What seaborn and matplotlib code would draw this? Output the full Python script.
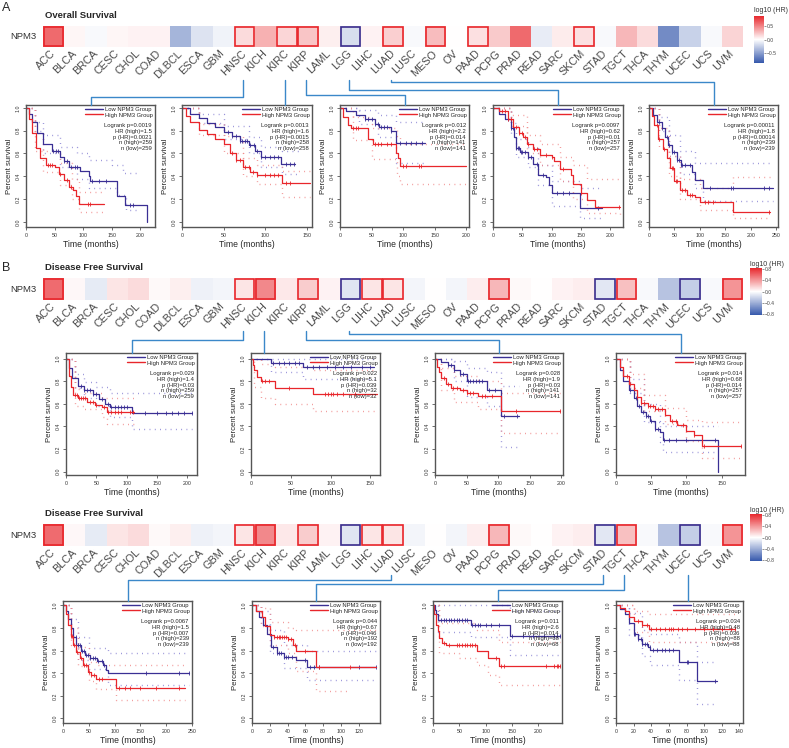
import numpy as np
import pandas as pd
import matplotlib
matplotlib.use('Agg')
import matplotlib.pyplot as plt
import seaborn as sns
from matplotlib.colors import LinearSegmentedColormap
from matplotlib.patches import Rectangle
from matplotlib.lines import Line2D

sns.set_style('white')
plt.rcParams['font.family'] = ['Liberation Sans', 'DejaVu Sans']

W, H = 789, 748

# ---------------- heatmap data (log10 HR) ----------------
cancers = ['ACC', 'BLCA', 'BRCA', 'CESC', 'CHOL', 'COAD', 'DLBCL', 'ESCA', 'GBM', 'HNSC', 'KICH',
           'KIRC', 'KIRP', 'LAML', 'LGG', 'LIHC', 'LUAD', 'LUSC', 'MESO', 'OV', 'PAAD', 'PCPG',
           'PRAD', 'READ', 'SARC', 'SKCM', 'STAD', 'TGCT', 'THCA', 'THYM', 'UCEC', 'UCS', 'UVM']
os_hr = [0.62, 0.04, -0.03, 0.04, 0.05, 0.05, -0.4, -0.15, -0.07, 0.15, 0.33,
         0.17, 0.24, 0.07, -0.18, 0.05, 0.2, -0.03, 0.28, 0.0, 0.13, 0.22,
         0.62, -0.1, 0.08, 0.13, -0.03, 0.3, 0.15, -0.62, -0.24, -0.03, 0.18]
# 1 = significant high (red frame), -1 = significant low (blue frame)
os_sig = [1, 0, 0, 0, 0, 0, 0, 0, 0, 1, 0,
          1, 1, 0, -1, 0, 1, 0, 1, 0, 1, 0,
          0, 0, 0, 1, 0, 0, 0, 0, 0, 0, 0]
dfs_hr = [0.58, 0.03, -0.1, 0.1, 0.14, 0.02, 0.06, -0.07, -0.05, 0.1, 0.47,
          0.09, 0.2, 0.05, -0.13, 0.1, 0.1, -0.05, 0.0, -0.05, 0.07, 0.28,
          0.02, 0.0, 0.05, 0.07, -0.12, 0.25, -0.03, -0.3, -0.25, -0.03, 0.42]
dfs_sig = [1, 0, 0, 0, 0, 0, 0, 0, 0, 1, 1,
           0, 1, 0, -1, 1, 1, 0, 0, 0, 0, 1,
           0, 0, 0, 0, -1, 1, 0, 0, -1, 0, 1]

# ---------------- Kaplan-Meier data: (months, survival) ----------------
# A: overall survival
os_hnsc_low = [(0, 1.0), (5, 0.95), (10, 0.88), (20, 0.78), (30, 0.68), (45, 0.62), (60, 0.57), (66, 0.53),
               (75, 0.48), (95, 0.45), (110, 0.40), (112, 0.36), (160, 0.23), (174, 0.15), (212, 0.0)]
os_hnsc_high = [(0, 1.0), (5, 0.9), (10, 0.78), (18, 0.65), (25, 0.56), (35, 0.5), (50, 0.48), (58, 0.42),
                (66, 0.37), (75, 0.31), (82, 0.28), (87, 0.23), (93, 0.16), (136, 0.16)]
os_hnsc_low_ci = ([(0, 1.0), (15, 0.88), (30, 0.76), (60, 0.66), (90, 0.6), (110, 0.54), (150, 0.5), (170, 0.43), (200, 0.43)],
                  [(0, 1.0), (15, 0.8), (30, 0.6), (60, 0.48), (90, 0.38), (110, 0.3), (160, 0.24), (175, 0.1), (200, 0.1)])
os_hnsc_high_ci = ([(0, 1.0), (15, 0.78), (30, 0.62), (60, 0.52), (80, 0.38), (93, 0.26), (136, 0.26)],
                   [(0, 1.0), (15, 0.62), (30, 0.44), (60, 0.32), (80, 0.2), (93, 0.09), (136, 0.09)])
os_hnsc_low_cens = [48, 52, 56, 66, 72, 78, 85, 90, 115, 128, 140, 183, 188]
os_hnsc_high_cens = [38, 42, 46, 60, 72, 78, 108, 112]
os_hnsc_stats = ['Logrank p=0.0019', 'HR (high)=1.5', 'p (HR)=0.0021', 'n (high)=259', 'n (low)=259']

os_kirc_low = [(0, 1.0), (10, 0.95), (20, 0.91), (30, 0.87), (40, 0.83), (50, 0.79), (60, 0.75), (70, 0.71),
               (80, 0.67), (88, 0.62), (95, 0.57), (119, 0.51), (136, 0.51)]
os_kirc_high = [(0, 1.0), (5, 0.93), (10, 0.88), (20, 0.81), (30, 0.77), (40, 0.73), (50, 0.68), (57, 0.6),
                (65, 0.54), (73, 0.48), (82, 0.44), (90, 0.41), (120, 0.345), (153, 0.345)]
os_kirc_low_ci = ([(0, 1.0), (20, 0.95), (50, 0.84), (80, 0.74), (95, 0.66), (120, 0.62), (140, 0.62)],
                  [(0, 1.0), (20, 0.87), (50, 0.73), (80, 0.6), (95, 0.48), (120, 0.42), (140, 0.42)])
os_kirc_high_ci = ([(0, 1.0), (20, 0.86), (50, 0.75), (73, 0.56), (90, 0.5), (120, 0.45), (153, 0.45)],
                   [(0, 1.0), (20, 0.76), (50, 0.6), (73, 0.4), (90, 0.33), (120, 0.22), (153, 0.22)])
os_kirc_low_cens = [55, 60, 65, 70, 72, 75, 78, 82, 86, 90, 95, 100, 105, 110, 115, 125, 130, 134]
os_kirc_high_cens = [60, 65, 70, 75, 80, 85, 90, 100, 105, 110, 115, 125, 130]
os_kirc_stats = ['Logrank p=0.0013', 'HR (high)=1.6', 'p (HR)=0.0015', 'n (high)=258', 'n (low)=258']

os_kirp_low = [(0, 1.0), (10, 0.97), (25, 0.94), (40, 0.9), (55, 0.86), (62, 0.83), (80, 0.8), (88, 0.69), (134, 0.69)]
os_kirp_high = [(0, 1.0), (5, 0.92), (12, 0.85), (18, 0.82), (45, 0.73), (52, 0.68), (88, 0.6), (92, 0.56),
                (95, 0.49), (199, 0.49)]
os_kirp_low_ci = ([(0, 1.0), (30, 0.98), (60, 0.94), (88, 0.88), (134, 0.88)],
                  [(0, 1.0), (30, 0.86), (60, 0.74), (88, 0.52), (134, 0.52)])
os_kirp_high_ci = ([(0, 1.0), (20, 0.92), (50, 0.82), (90, 0.75), (95, 0.68), (199, 0.68)],
                   [(0, 1.0), (20, 0.72), (50, 0.55), (90, 0.4), (95, 0.33), (199, 0.33)])
os_kirp_low_cens = [40, 45, 50, 55, 60, 65, 70, 75, 80, 95, 105, 112, 120, 130]
os_kirp_high_cens = [20, 25, 28, 55, 60, 65, 75, 80, 100, 105, 125, 128]
os_kirp_stats = ['Logrank p=0.012', 'HR (high)=2.2', 'p (HR)=0.014', 'n (high)=141', 'n (low)=141']

os_lgg_low = [(0, 1.0), (10, 0.95), (20, 0.9), (30, 0.82), (36, 0.74), (40, 0.65), (46, 0.61), (60, 0.57),
              (68, 0.51), (76, 0.41), (90, 0.39), (96, 0.32), (100, 0.25), (149, 0.12), (186, 0.12)]
os_lgg_high = [(0, 1.0), (10, 0.97), (25, 0.9), (35, 0.83), (45, 0.78), (52, 0.74), (58, 0.68), (68, 0.64),
               (80, 0.59), (100, 0.57), (105, 0.53), (115, 0.46), (133, 0.41), (137, 0.33), (150, 0.25),
               (160, 0.19), (174, 0.13), (217, 0.13)]
os_lgg_low_ci = ([(0, 1.0), (30, 0.87), (40, 0.73), (60, 0.66), (76, 0.5), (100, 0.36), (149, 0.3), (186, 0.3)],
                 [(0, 1.0), (30, 0.76), (40, 0.57), (60, 0.48), (76, 0.32), (100, 0.14), (149, 0.03), (186, 0.03)])
os_lgg_high_ci = ([(0, 1.0), (30, 0.94), (58, 0.76), (80, 0.68), (115, 0.57), (137, 0.5), (160, 0.38), (217, 0.38)],
                  [(0, 1.0), (30, 0.84), (58, 0.6), (80, 0.5), (115, 0.36), (137, 0.2), (160, 0.08), (217, 0.04)])
os_lgg_low_cens = [25, 30, 35, 40, 42, 45, 48, 50, 55, 60, 65, 75, 85, 110, 120, 130, 180]
os_lgg_high_cens = [15, 20, 25, 30, 40, 45, 50, 55, 60, 70, 75, 90, 100, 120, 150, 215]
os_lgg_stats = ['Logrank p=0.0097', 'HR (high)=0.62', 'p (HR)=0.01', 'n (high)=257', 'n (low)=257']

os_luad_low = [(0, 1.0), (8, 0.94), (15, 0.88), (25, 0.82), (32, 0.74), (37, 0.67), (45, 0.61), (55, 0.54),
               (62, 0.5), (85, 0.44), (90, 0.37), (106, 0.3), (244, 0.3)]
os_luad_high = [(0, 1.0), (5, 0.93), (10, 0.85), (18, 0.73), (28, 0.64), (35, 0.56), (41, 0.47), (50, 0.36),
                (60, 0.28), (75, 0.24), (90, 0.22), (100, 0.175), (165, 0.09), (237, 0.09)]
os_luad_low_ci = ([(0, 1.0), (20, 0.92), (40, 0.76), (60, 0.62), (90, 0.52), (244, 0.52)],
                  [(0, 1.0), (20, 0.8), (40, 0.58), (60, 0.42), (90, 0.3), (106, 0.18), (244, 0.18)])
os_luad_high_ci = ([(0, 1.0), (20, 0.82), (40, 0.58), (60, 0.38), (100, 0.3), (165, 0.39), (237, 0.39)],
                   [(0, 1.0), (20, 0.66), (40, 0.4), (60, 0.2), (100, 0.1), (165, 0.03), (237, 0.03)])
os_luad_low_cens = [20, 25, 35, 40, 45, 50, 55, 58, 62, 65, 70, 80, 120, 160, 165, 225, 235]
os_luad_high_cens = [15, 20, 30, 45, 48, 52, 55, 65, 70, 80, 85, 110, 115, 125, 235]
os_luad_stats = ['Logrank p=0.00011', 'HR (high)=1.8', 'p (HR)=0.00014', 'n (high)=239', 'n (low)=239']

# B: disease free survival
dfs_hnsc_low = [(0, 1.0), (5, 0.92), (10, 0.83), (20, 0.76), (30, 0.72), (45, 0.69), (55, 0.64), (65, 0.6),
                (72, 0.57), (108, 0.52), (207, 0.52)]
dfs_hnsc_high = [(0, 1.0), (5, 0.85), (9, 0.75), (12, 0.68), (20, 0.65), (35, 0.62), (48, 0.59), (60, 0.57),
                 (68, 0.53), (112, 0.53)]
dfs_hnsc_low_ci = ([(0, 1.0), (15, 0.86), (30, 0.79), (50, 0.75), (72, 0.7), (207, 0.7)],
                   [(0, 1.0), (15, 0.74), (30, 0.65), (50, 0.58), (72, 0.48), (108, 0.38), (207, 0.38)])
dfs_hnsc_high_ci = ([(0, 1.0), (15, 0.73), (30, 0.7), (60, 0.65), (112, 0.64)],
                    [(0, 1.0), (15, 0.58), (30, 0.55), (60, 0.48), (68, 0.42), (112, 0.41)])
dfs_hnsc_low_cens = [25, 30, 35, 40, 45, 50, 60, 70, 75, 80, 85, 90, 95, 100, 130, 150, 165, 175, 185, 195, 207]
dfs_hnsc_high_cens = [15, 18, 22, 25, 28, 32, 40, 45, 50, 62, 70, 75, 80, 85, 90, 105, 110]
dfs_hnsc_stats = ['Logrank p=0.029', 'HR (high)=1.4', 'p (HR)=0.03', 'n (high)=259', 'n (low)=259']

dfs_kich_low = [(0, 1.0), (25, 0.96), (65, 0.93), (155, 0.93)]
dfs_kich_high = [(0, 1.0), (2, 0.94), (4, 0.9), (7, 0.84), (12, 0.8), (30, 0.74), (78, 0.69), (158, 0.69)]
dfs_kich_low_ci = ([(0, 1.0), (155, 1.0)],
                   [(0, 1.0), (25, 0.88), (65, 0.82), (155, 0.82)])
dfs_kich_high_ci = ([(0, 1.0), (12, 0.95), (30, 0.93), (78, 0.9), (158, 0.9)],
                    [(0, 1.0), (4, 0.75), (12, 0.65), (30, 0.6), (78, 0.54), (158, 0.54)])
dfs_kich_low_cens = [28, 35, 42, 48, 55, 60, 70, 78, 85, 95, 105, 115, 125, 140, 150]
dfs_kich_high_cens = [14, 18, 22, 48, 93, 97, 100, 103, 108, 115, 130]
dfs_kich_stats = ['Logrank p=0.022', 'HR (high)=5.1', 'p (HR)=0.039', 'n (high)=32', 'n (low)=32']

dfs_kirp_low = [(0, 1.0), (10, 0.97), (20, 0.94), (30, 0.9), (40, 0.86), (50, 0.8), (82, 0.72), (105, 0.49), (133, 0.49)]
dfs_kirp_high = [(0, 1.0), (3, 0.93), (6, 0.88), (10, 0.83), (18, 0.78), (25, 0.74), (40, 0.72), (50, 0.7),
                 (68, 0.67), (105, 0.54), (198, 0.54)]
dfs_kirp_low_ci = ([(0, 1.0), (30, 0.98), (50, 0.92), (82, 0.88), (105, 0.76), (133, 0.76)],
                   [(0, 1.0), (30, 0.8), (50, 0.66), (82, 0.58), (105, 0.22), (133, 0.22)])
dfs_kirp_high_ci = ([(0, 1.0), (10, 0.92), (30, 0.85), (68, 0.8), (105, 0.7), (198, 0.7)],
                    [(0, 1.0), (10, 0.72), (30, 0.62), (68, 0.55), (105, 0.34), (198, 0.34)])
dfs_kirp_low_cens = [20, 25, 30, 40, 45, 52, 55, 60, 65, 70, 75, 85, 95, 110, 130]
dfs_kirp_high_cens = [15, 20, 28, 35, 45, 50, 55, 60, 75, 80, 90, 128, 198]
dfs_kirp_stats = ['Logrank p=0.028', 'HR (high)=1.9', 'p (HR)=0.03', 'n (high)=141', 'n (low)=141']

dfs_lgg_low = [(0, 1.0), (5, 0.9), (10, 0.8), (18, 0.72), (25, 0.65), (30, 0.58), (35, 0.53), (42, 0.49),
               (48, 0.45), (55, 0.38), (62, 0.35), (67, 0.28), (145, 0.0)]
dfs_lgg_high = [(0, 1.0), (5, 0.93), (10, 0.85), (18, 0.78), (25, 0.72), (30, 0.66), (35, 0.61), (45, 0.58),
                (55, 0.55), (70, 0.5), (77, 0.45), (86, 0.41), (100, 0.36), (110, 0.32), (122, 0.23), (178, 0.23)]
dfs_lgg_low_ci = ([(0, 1.0), (20, 0.82), (40, 0.6), (62, 0.45), (67, 0.4), (145, 0.4)],
                  [(0, 1.0), (20, 0.7), (40, 0.44), (62, 0.26), (67, 0.17), (145, 0.17)])
dfs_lgg_high_ci = ([(0, 1.0), (20, 0.86), (40, 0.68), (70, 0.56), (100, 0.46), (122, 0.44), (178, 0.44)],
                   [(0, 1.0), (20, 0.74), (40, 0.54), (70, 0.42), (100, 0.27), (122, 0.12), (178, 0.12)])
dfs_lgg_low_cens = [20, 28, 33, 38, 42, 46, 50, 55, 60, 68, 75, 85, 100, 140]
dfs_lgg_high_cens = [15, 20, 30, 35, 40, 45, 48, 52, 56, 60, 65, 80, 85, 95, 110, 125, 178]
dfs_lgg_stats = ['Logrank p=0.014', 'HR (high)=0.68', 'p (HR)=0.014', 'n (high)=257', 'n (low)=257']

# second disease free survival block
dfs_luad_low = [(0, 1.0), (5, 0.95), (10, 0.88), (15, 0.8), (20, 0.72), (26, 0.65), (35, 0.6), (42, 0.56),
                (52, 0.53), (65, 0.51), (78, 0.47), (84, 0.43), (88, 0.4), (245, 0.4)]
dfs_luad_high = [(0, 1.0), (5, 0.92), (10, 0.83), (15, 0.73), (20, 0.65), (26, 0.59), (32, 0.53), (39, 0.47),
                 (49, 0.41), (55, 0.38), (63, 0.345), (102, 0.27), (237, 0.27)]
dfs_luad_low_ci = ([(0, 1.0), (15, 0.88), (30, 0.72), (50, 0.62), (88, 0.58), (245, 0.58)],
                   [(0, 1.0), (15, 0.72), (30, 0.52), (50, 0.44), (88, 0.3), (245, 0.3)])
dfs_luad_high_ci = ([(0, 1.0), (15, 0.8), (30, 0.63), (50, 0.5), (63, 0.47), (237, 0.47)],
                    [(0, 1.0), (15, 0.65), (30, 0.46), (50, 0.33), (63, 0.26), (102, 0.16), (237, 0.16)])
dfs_luad_low_cens = [25, 30, 32, 36, 40, 45, 48, 52, 58, 62, 68, 75, 80, 160, 225, 245]
dfs_luad_high_cens = [15, 18, 22, 28, 35, 40, 45, 50, 55, 60, 70, 75, 108, 120, 130, 150, 180, 225]
dfs_luad_stats = ['Logrank p=0.0067', 'HR (high)=1.5', 'p (HR)=0.007', 'n (high)=239', 'n (low)=239']

dfs_stad_low = [(0, 1.0), (4, 0.95), (8, 0.9), (12, 0.83), (17, 0.75), (21, 0.63), (28, 0.575), (36, 0.545),
                (50, 0.52), (62, 0.455), (140, 0.455)]
dfs_stad_high = [(0, 1.0), (5, 0.95), (11, 0.9), (15, 0.82), (20, 0.74), (25, 0.72), (40, 0.7), (46, 0.65),
                 (50, 0.6), (72, 0.455), (140, 0.455)]
dfs_stad_low_ci = ([(0, 1.0), (10, 0.95), (20, 0.78), (36, 0.65), (62, 0.6), (140, 0.6)],
                   [(0, 1.0), (10, 0.83), (20, 0.58), (36, 0.45), (62, 0.34), (140, 0.34)])
dfs_stad_high_ci = ([(0, 1.0), (10, 0.98), (20, 0.85), (40, 0.8), (50, 0.78), (140, 0.78)],
                    [(0, 1.0), (10, 0.82), (20, 0.65), (40, 0.58), (50, 0.42), (72, 0.24), (110, 0.24)])
dfs_stad_low_cens = [20, 24, 28, 30, 33, 36, 38, 40, 45, 60, 65, 70, 75, 120, 140]
dfs_stad_high_cens = [25, 28, 30, 32, 34, 36, 38, 41, 44, 48, 60, 75, 110]
dfs_stad_stats = ['Logrank p=0.044', 'HR (high)=0.67', 'p (HR)=0.046', 'n (high)=192', 'n (low)=192']

dfs_tgct_low = [(0, 1.0), (3, 0.96), (6, 0.92), (10, 0.87), (73, 0.83), (146, 0.73), (241, 0.73)]
dfs_tgct_high = [(0, 1.0), (2, 0.92), (5, 0.83), (9, 0.77), (12, 0.71), (18, 0.67), (25, 0.65), (84, 0.6),
                 (105, 0.535), (125, 0.465), (241, 0.465)]
dfs_tgct_low_ci = ([(0, 1.0), (146, 0.95), (241, 0.95)],
                   [(0, 1.0), (10, 0.76), (73, 0.72), (146, 0.56), (241, 0.56)])
dfs_tgct_high_ci = ([(0, 1.0), (12, 0.84), (84, 0.78), (125, 0.68), (241, 0.68)],
                    [(0, 1.0), (12, 0.58), (50, 0.53), (84, 0.47), (105, 0.38), (125, 0.3), (241, 0.3)])
dfs_tgct_low_cens = [15, 20, 25, 30, 35, 40, 45, 50, 55, 60, 65, 75, 80, 85, 90, 100, 110, 125, 150, 170,
                     190, 210, 230, 235, 241]
dfs_tgct_high_cens = [20, 30, 45, 50, 55, 60, 65, 70, 75, 80, 120, 130, 135, 215, 230, 235, 238, 241]
dfs_tgct_stats = ['Logrank p=0.011', 'HR (high)=2.6', 'p (HR)=0.014', 'n (high)=68', 'n (low)=68']

dfs_ucec_low = [(0, 1.0), (5, 0.97), (10, 0.92), (15, 0.84), (20, 0.75), (25, 0.7), (30, 0.66), (36, 0.63),
                (39, 0.605), (71, 0.5), (92, 0.33), (114, 0.33)]
dfs_ucec_high = [(0, 1.0), (5, 0.98), (10, 0.95), (15, 0.9), (20, 0.86), (30, 0.83), (37, 0.79), (135, 0.79)]
dfs_ucec_low_ci = ([(0, 1.0), (15, 0.93), (30, 0.78), (39, 0.75), (71, 0.68), (92, 0.5), (114, 0.5)],
                   [(0, 1.0), (15, 0.74), (30, 0.55), (39, 0.47), (71, 0.34), (92, 0.13), (114, 0.13)])
dfs_ucec_high_ci = ([(0, 1.0), (20, 0.95), (37, 0.92), (135, 0.92)],
                    [(0, 1.0), (20, 0.76), (37, 0.68), (135, 0.68)])
dfs_ucec_low_cens = [20, 22, 25, 28, 30, 33, 35, 38, 42, 47, 52, 56, 60, 65, 80, 82, 112]
dfs_ucec_high_cens = [25, 30, 35, 40, 45, 50, 55, 60, 62, 65, 70, 75, 80, 90, 100, 110, 120, 130, 135]
dfs_ucec_stats = ['Logrank p=0.034', 'HR (high)=0.48', 'p (HR)=0.036', 'n (high)=88', 'n (low)=88']

# ---------------- style ----------------
LOW_C = '#3a2f94'
HIGH_C = '#e8262b'
LOW_CI = '#8a84d4'
HIGH_CI = '#f08a8a'
FRAME_BLUE = '#3b2d8c'
LINK_C = '#3b88c9'
hr_cmap = LinearSegmentedColormap.from_list('hr', ['#3558ac', '#ffffff', '#e8282d'])

fig = plt.figure(figsize=(W / 100, H / 100), dpi=100)


def px_rect(x0, y0, x1, y1):
    return [x0 / W, 1 - y1 / H, (x1 - x0) / W, (y1 - y0) / H]


def ftext(x, y, s, **kw):
    fig.text(x / W, 1 - y / H, s, **kw)


def heat_row(y0, y1, hr, sig, vmax, cticks, cb, title_y, cb_title_y):
    ax = fig.add_axes(px_rect(43, y0, 743, y1))
    cax = fig.add_axes(px_rect(*cb))
    df = pd.DataFrame([hr], index=['NPM3'], columns=cancers)
    sns.heatmap(df, ax=ax, cmap=hr_cmap, vmin=-vmax, vmax=vmax, cbar_ax=cax,
                cbar_kws={'ticks': cticks}, xticklabels=True, yticklabels=True)
    ax.tick_params(axis='x', length=0, pad=3.5)
    ax.tick_params(axis='y', length=0, pad=5)
    ax.set_xticklabels(cancers, rotation=45, ha='right', va='center', rotation_mode='anchor',
                       fontsize=7.8, color='#4a4a4a')
    ax.set_yticklabels(['NPM3'], rotation=0, fontsize=6.8, color='#333333')
    for i, s in enumerate(sig):
        if s:
            ax.add_patch(Rectangle((i + 0.04, 0.05), 0.92, 0.9, fill=False,
                                   ec=HIGH_C if s > 0 else FRAME_BLUE, lw=1.2, clip_on=False))
    ax.collections[0].colorbar.outline.set_visible(False)
    cax.tick_params(labelsize=3.6, length=1.2, width=0.4, pad=1, colors='#444444')
    cax.set_yticklabels([f'{t:.1f}'.replace('-', '\u2212') for t in cticks])
    ftext(45, title_y, 'Disease Free Survival' if hr is dfs_hr else 'Overall Survival',
          fontsize=6.8, fontweight='bold', va='center')
    ftext(cb[0], cb_title_y, 'log10 (HR)', fontsize=5, va='center', color='#333333')
    return ax


def step_at(curve, t):
    ts = [p[0] for p in curve]
    i = np.searchsorted(ts, t, side='right') - 1
    return curve[max(i, 0)][1]


def km_panel(box, ylim, xmax, xticks, low, high, low_ci, high_ci, low_cens, high_cens, stats):
    ax = fig.add_axes(px_rect(*box))
    for band, c in [(low_ci[0], LOW_CI), (low_ci[1], LOW_CI), (high_ci[0], HIGH_CI), (high_ci[1], HIGH_CI)]:
        t, s = zip(*band)
        sns.lineplot(x=list(t), y=list(s), ax=ax, color=c, lw=1.0, linestyle=(0, (0.6, 3.2)),
                     drawstyle='steps-post', estimator=None, sort=False)
    for curve, cens, c in [(low, low_cens, LOW_C), (high, high_cens, HIGH_C)]:
        t, s = zip(*curve)
        sns.lineplot(x=list(t), y=list(s), ax=ax, color=c, lw=0.9,
                     drawstyle='steps-post', estimator=None, sort=False)
        ax.plot(cens, [step_at(curve, x) for x in cens], ls='none', marker='|',
                ms=3.4, mew=0.6, color=c)
    ax.set_xlim(0, xmax)
    ax.set_ylim(*ylim)
    ax.set_xticks(xticks)
    ax.set_xticklabels([str(x) for x in xticks])
    yt = [0, 0.2, 0.4, 0.6, 0.8, 1.0]
    ax.set_yticks(yt)
    ax.set_yticklabels([f'{v:.1f}' for v in yt], rotation=90, va='center')
    ax.tick_params(bottom=True, left=True, labelsize=3.8, length=2, width=0.5, pad=2, colors='#333333')
    ax.set_xlabel('Time (months)', fontsize=6.2, labelpad=2)
    ax.set_ylabel('Percent survival', fontsize=5.6, labelpad=2)
    for sp in ax.spines.values():
        sp.set_color('#555555')
        sp.set_linewidth(1.0)
    handles = [Line2D([], [], color=LOW_C, lw=1), Line2D([], [], color=HIGH_C, lw=1)]
    ax.legend(handles, ['Low NPM3 Group', 'High NPM3 Group'], loc='upper right', frameon=False,
              fontsize=4.2, handlelength=3, handletextpad=0.4, labelspacing=0.05,
              borderaxespad=0.15, borderpad=0.2)
    ax.text(0.975, 0.85, '\n'.join(stats), transform=ax.transAxes, ha='right', va='top',
            fontsize=4.2, linespacing=1.15)
    return ax


def link(cancer, box, level, y_start):
    cx = 43 + 700 / 33 * (cancers.index(cancer) + 0.5) - 2
    if box[0] <= cx <= box[2]:
        xs, ys = [cx, cx], [y_start, box[1]]
    else:
        px = (box[0] + box[2]) / 2
        xs, ys = [cx, cx, px, px], [y_start, level, level, box[1]]
    fig.add_artist(Line2D([x / W for x in xs], [1 - y / H for y in ys],
                          transform=fig.transFigure, color=LINK_C, lw=1.0))


# ---------------- A: overall survival ----------------
ftext(2, 8, 'A', fontsize=9, va='center')
heat_row(26, 47, os_hr, os_sig, 0.9, [0.5, 0.0, -0.5], (754, 16, 764, 63), 15, 11)
ylim_a = (-0.045, 1.025)
boxes_a = [(26, 105, 155, 227), (182, 105, 312, 227), (340, 105, 469, 227), (493, 105, 623, 227), (649, 105, 778, 227)]
t200 = [0, 50, 100, 150, 200]
km_panel(boxes_a[0], ylim_a, 226, t200, os_hnsc_low, os_hnsc_high, os_hnsc_low_ci, os_hnsc_high_ci,
         os_hnsc_low_cens, os_hnsc_high_cens, os_hnsc_stats)
km_panel(boxes_a[1], ylim_a, 156, [0, 50, 100, 150], os_kirc_low, os_kirc_high, os_kirc_low_ci, os_kirc_high_ci,
         os_kirc_low_cens, os_kirc_high_cens, os_kirc_stats)
km_panel(boxes_a[2], ylim_a, 204, t200, os_kirp_low, os_kirp_high, os_kirp_low_ci, os_kirp_high_ci,
         os_kirp_low_cens, os_kirp_high_cens, os_kirp_stats)
km_panel(boxes_a[3], ylim_a, 222, t200, os_lgg_low, os_lgg_high, os_lgg_low_ci, os_lgg_high_ci,
         os_lgg_low_cens, os_lgg_high_cens, os_lgg_stats)
km_panel(boxes_a[4], ylim_a, 253, [0, 50, 100, 150, 200, 250], os_luad_low, os_luad_high, os_luad_low_ci,
         os_luad_high_ci, os_luad_low_cens, os_luad_high_cens, os_luad_stats)
for name, box, lvl in zip(['HNSC', 'KIRC', 'KIRP', 'LGG', 'LUAD'], boxes_a, [97, None, 95, 90, 82]):
    link(name, box, lvl, 80)

# ---------------- B: disease free survival ----------------
ftext(2, 268, 'B', fontsize=9, va='center')
dfs_ticks = [0.8, 0.4, 0.0, -0.4, -0.8]
heat_row(278, 300, dfs_hr, dfs_sig, 0.85, dfs_ticks, (750, 268, 762, 315), 268, 264)
ylim_b = (-0.03, 1.05)
boxes_b = [(66, 353, 197, 475), (251, 353, 380, 475), (435, 353, 563, 475), (616, 353, 745, 475)]
km_panel(boxes_b[0], ylim_b, 216, t200, dfs_hnsc_low, dfs_hnsc_high, dfs_hnsc_low_ci, dfs_hnsc_high_ci,
         dfs_hnsc_low_cens, dfs_hnsc_high_cens, dfs_hnsc_stats)
km_panel(boxes_b[1], ylim_b, 162, [0, 50, 100, 150], dfs_kich_low, dfs_kich_high, dfs_kich_low_ci,
         dfs_kich_high_ci, dfs_kich_low_cens, dfs_kich_high_cens, dfs_kich_stats)
km_panel(boxes_b[2], ylim_b, 203, t200, dfs_kirp_low, dfs_kirp_high, dfs_kirp_low_ci, dfs_kirp_high_ci,
         dfs_kirp_low_cens, dfs_kirp_high_cens, dfs_kirp_stats)
km_panel(boxes_b[3], ylim_b, 183, [0, 50, 100, 150], dfs_lgg_low, dfs_lgg_high, dfs_lgg_low_ci,
         dfs_lgg_high_ci, dfs_lgg_low_cens, dfs_lgg_high_cens, dfs_lgg_stats)
for name, box, lvl in zip(['HNSC', 'KICH', 'KIRP', 'LGG'], boxes_b, [340, None, 340, 334]):
    link(name, box, lvl, 331)

# ---------------- second disease free survival block ----------------
heat_row(524, 546, dfs_hr, dfs_sig, 0.85, dfs_ticks, (750, 514, 762, 561), 513, 510)
ylim_c = (-0.04, 1.038)
boxes_c = [(63, 601, 192, 723), (252, 601, 380, 723), (433, 601, 562, 723), (616, 601, 743, 723)]
km_panel(boxes_c[0], ylim_c, 250, [0, 50, 100, 150, 200, 250], dfs_luad_low, dfs_luad_high, dfs_luad_low_ci,
         dfs_luad_high_ci, dfs_luad_low_cens, dfs_luad_high_cens, dfs_luad_stats)
km_panel(boxes_c[1], ylim_c, 144, [0, 20, 40, 60, 80, 100, 120], dfs_stad_low, dfs_stad_high, dfs_stad_low_ci,
         dfs_stad_high_ci, dfs_stad_low_cens, dfs_stad_high_cens, dfs_stad_stats)
km_panel(boxes_c[2], ylim_c, 245, t200, dfs_tgct_low, dfs_tgct_high, dfs_tgct_low_ci, dfs_tgct_high_ci,
         dfs_tgct_low_cens, dfs_tgct_high_cens, dfs_tgct_stats)
km_panel(boxes_c[3], ylim_c, 144, [0, 20, 40, 60, 80, 100, 120, 140], dfs_ucec_low, dfs_ucec_high,
         dfs_ucec_low_ci, dfs_ucec_high_ci, dfs_ucec_low_cens, dfs_ucec_high_cens, dfs_ucec_stats)
for name, box, lvl in zip(['LUAD', 'STAD', 'TGCT', 'UCEC'], boxes_c, [580, 584, 590, None]):
    link(name, box, lvl, 575)

fig.savefig('out.png', dpi=100, facecolor='white')
